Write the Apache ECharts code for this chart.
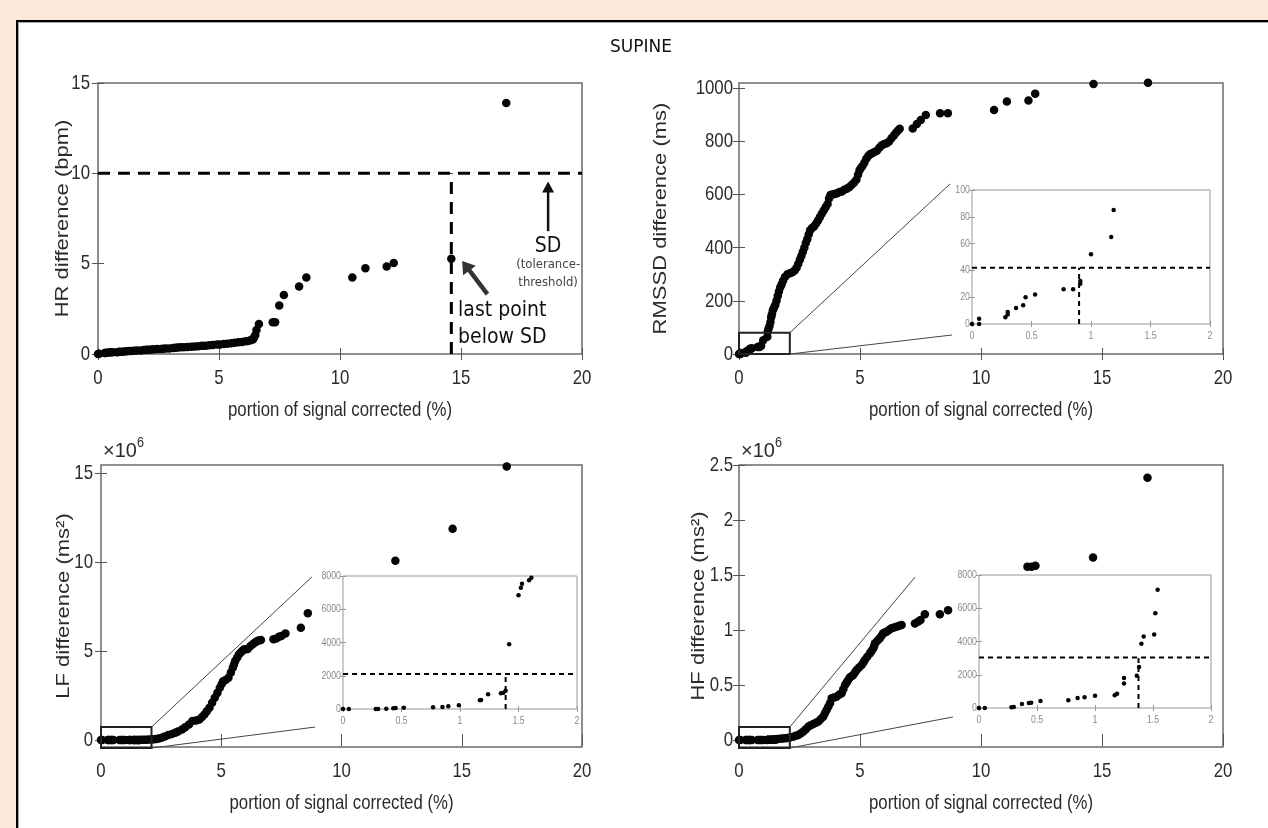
<!DOCTYPE html>
<html><head><meta charset="utf-8">
<script src="https://cdn.jsdelivr.net/npm/echarts@6/dist/echarts.min.js"></script>
<style>
html,body{margin:0;padding:0;background:#FCE9DC;width:1268px;height:828px;overflow:hidden;}
#frame{position:absolute;left:16px;top:20px;width:1252px;height:808px;background:#fff;border-left:2px solid #000;border-top:2px solid #000;box-sizing:border-box;box-shadow:inset 1px 1px 0 #aaa;}
#chart{position:absolute;left:0;top:0;width:1268px;height:828px;}
</style></head><body><div id="frame"></div><div id="chart"></div>
<script>
// ---------------- DATA ----------------
const xTitle = 'portion of signal corrected (%)';
const xTicksMain = [0, 5, 10, 15, 20];

// HR (top-left)
const hrX = [0,0.05,0.28,0.30,0.37,0.45,0.52,0.60,0.77,0.85,0.90,1.00,1.10,1.18,1.30,1.40,1.50,1.60,1.76,1.90,2.00,2.10,2.20,2.30,2.45,2.60,2.70,2.80,2.94,3.10,3.20,3.30,3.42,3.55,3.70,3.86,4.00,4.15,4.30,4.45,4.60,4.75,4.92,5.05,5.20,5.34,5.50,5.65,5.80,5.95,6.10,6.20,6.30,6.40,6.45,6.50,6.55,6.65,7.22,7.32,7.49,7.68,8.31,8.61,10.51,11.05,11.93,12.22,14.60,16.87];
const hrY = [0,0.02,0.05,0.06,0.07,0.08,0.09,0.10,0.10,0.11,0.12,0.13,0.14,0.15,0.16,0.17,0.18,0.19,0.20,0.22,0.23,0.24,0.25,0.26,0.27,0.28,0.29,0.30,0.31,0.33,0.34,0.36,0.37,0.38,0.39,0.40,0.41,0.43,0.45,0.46,0.48,0.50,0.52,0.53,0.55,0.57,0.59,0.62,0.65,0.67,0.70,0.72,0.76,0.80,0.92,1.05,1.33,1.66,1.76,1.76,2.68,3.27,3.73,4.23,4.23,4.75,4.84,5.04,5.27,13.89];
const hrThreshold = 10;
const hrLastX = 14.6;
const hrYTicks = [0, 5, 10, 15];

// RMSSD (top-right)
const rmX = [0,0.06,0.06,0.28,0.30,0.30,0.37,0.43,0.45,0.53,0.77,0.85,0.91,0.91,1.00,1.17,1.19,1.22,1.26,1.30,1.33,1.36,1.40,1.45,1.50,1.55,1.60,1.65,1.70,1.76,1.82,1.90,2.00,2.10,2.20,2.30,2.38,2.45,2.52,2.58,2.64,2.70,2.76,2.82,2.88,2.94,3.02,3.10,3.18,3.26,3.34,3.42,3.50,3.58,3.66,3.72,3.78,3.86,3.95,4.05,4.15,4.25,4.35,4.45,4.55,4.65,4.75,4.85,4.92,4.98,5.04,5.10,5.18,5.26,5.34,5.42,5.50,5.60,5.70,5.80,5.90,6.00,6.10,6.20,6.30,6.40,6.48,6.56,6.64,7.18,7.35,7.51,7.72,8.31,8.63,10.54,11.07,11.96,12.24,14.65,16.90];
const rmY = [0,0,4,5,7,9,12,14,20,22,26,26,30,32,52,65,85,95,105,120,138,150,165,175,185,200,218,235,250,262,276,290,300,304,308,314,325,340,356,370,385,400,418,432,450,466,474,480,490,502,515,528,540,552,565,585,598,600,602,605,610,612,618,622,628,636,645,656,675,692,700,708,720,735,745,752,756,760,765,776,786,790,793,800,812,822,832,840,848,849,866,881,900,906,906,918,950,954,980,1016,1021];
const rmInsetX = [0,0.06,0.06,0.28,0.30,0.30,0.37,0.43,0.45,0.53,0.77,0.85,0.91,0.91,1.00,1.17,1.19];
const rmInsetY = [0,0,4,5,7,9,12,14,20,22,26,26,30,32,52,65,85];
const rmThreshold = 42;
const rmLastX = 0.9;
const rmYTicks = [0, 200, 400, 600, 800, 1000];
const rmInsetYTicks = [0, 20, 40, 60, 80, 100];

// LF (bottom-left)
const lfInsetX = [0,0.05,0.28,0.30,0.37,0.43,0.45,0.52,0.77,0.85,0.90,0.99,1.17,1.18,1.24,1.35,1.37,1.39,1.42,1.50,1.52,1.53,1.59,1.61];
const lfInsetY = [0,0,0,0,20,40,60,80,100,120,160,220,520,540,880,940,980,1100,3900,6840,7300,7540,7740,7900];
const lfX = lfInsetX.concat([1.70,1.80,1.90,2.00,2.10,2.20,2.30,2.40,2.52,2.65,2.80,2.95,3.09,3.20,3.37,3.50,3.66,3.80,3.95,4.09,4.20,4.30,4.40,4.51,4.62,4.73,4.84,4.94,5.02,5.08,5.18,5.30,5.40,5.48,5.53,5.58,5.66,5.73,5.80,5.87,5.94,6.02,6.10,6.22,6.32,6.42,6.50,6.58,6.65,7.17,7.29,7.40,7.50,7.67,8.31,8.60,12.24,14.62,16.87]);
const lfY = lfInsetY.concat([12000,16000,20000,25000,32000,40000,60000,90000,130000,200000,280000,340000,410000,480000,600000,720000,880000,1070000,1100000,1160000,1300000,1440000,1620000,1820000,2100000,2380000,2650000,2940000,3150000,3310000,3380000,3500000,3800000,4060000,4250000,4440000,4620000,4810000,4900000,5000000,5090000,5100000,5120000,5280000,5400000,5500000,5560000,5600000,5620000,5660000,5710000,5800000,5840000,5990000,6310000,7120000,10070000,11870000,15360000]);
const lfThreshold = 2100;
const lfLastX = 1.39;
const lfYTicks = [0, 5e6, 10e6, 15e6];
const insetPowerYTicks = [0, 2000, 4000, 6000, 8000];

// HF (bottom-right)
const hfInsetX = [0,0.05,0.28,0.30,0.37,0.43,0.45,0.53,0.77,0.85,0.91,1.00,1.17,1.19,1.25,1.25,1.36,1.38,1.40,1.42,1.51,1.52,1.54];
const hfInsetY = [0,0,40,60,240,300,320,420,460,600,640,740,760,860,1480,1800,1940,2460,3860,4300,4420,5700,7120];
const hfX = hfInsetX.concat([1.60,1.70,1.80,1.90,2.00,2.10,2.24,2.35,2.45,2.56,2.66,2.76,2.86,2.96,3.07,3.18,3.28,3.38,3.48,3.55,3.62,3.69,3.76,3.83,3.93,4.03,4.14,4.24,4.31,4.38,4.45,4.51,4.58,4.65,4.72,4.79,4.86,4.96,5.07,5.14,5.20,5.30,5.41,5.48,5.55,5.59,5.62,5.72,5.82,5.89,5.96,6.03,6.10,6.20,6.30,6.40,6.51,6.62,6.72,7.27,7.41,7.50,7.68,8.30,8.64,11.92,12.09,12.25,14.63,16.88]);
const hfY = hfInsetY.concat([9000,11000,13000,15000,18000,22000,30000,38000,45000,60000,76000,98000,121000,133000,145000,156000,167000,190000,212000,243000,273000,303000,333000,379000,386000,394000,410000,424000,462000,500000,523000,545000,568000,580000,591000,614000,636000,659000,682000,705000,727000,757000,788000,810000,833000,856000,879000,902000,924000,947000,970000,978000,985000,1000000,1015000,1022000,1030000,1038000,1045000,1058000,1076000,1090000,1142000,1142000,1180000,1576000,1576000,1585000,1658000,2385000]);
const hfThreshold = 3040;
const hfLastX = 1.375;
const hfYTicks = [0, 0.5e6, 1e6, 1.5e6, 2e6, 2.5e6];
const insetXTicks = [0, 0.5, 1, 1.5, 2];

// ---------------- CHART ----------------
const LIB = "'Liberation Sans',Arial,sans-serif";
const DEJA = "'DejaVu Sans',sans-serif";
const COND = "'DejaVu Sans Condensed','DejaVu Sans',sans-serif";
const SQ = 0.8; // horizontal squeeze of the reference's lettering
const pairs = (xs, ys) => { const n = Math.min(xs.length, ys.length), o = []; for (let i = 0; i < n; i++) o.push([xs[i], ys[i]]); return o; };

const chart = echarts.init(document.getElementById('chart'), null, {renderer: 'canvas', width: 1268, height: 828});

const grids = [
  {left: 98,  top: 83,  width: 484, height: 271},
  {left: 739, top: 83,  width: 484, height: 271},
  {left: 101, top: 465, width: 481, height: 282},
  {left: 739, top: 465, width: 484, height: 282},
  {left: 972, top: 190, width: 238, height: 134, inset: true},
  {left: 343, top: 576, width: 234, height: 133, inset: true},
  {left: 979, top: 575, width: 232, height: 133, inset: true}
];

const gridOpts = grids.map(g => ({
  left: g.left, top: g.top, width: g.width, height: g.height, show: true,
  borderColor: g.inset ? '#999' : '#6a6a6a', borderWidth: g.inset ? 1 : 1.5,
  backgroundColor: g.inset ? '#fff' : 'transparent', z: g.inset ? 5 : 0
}));

const xAxes = [], yAxes = [];
const panels = [];
function addAxes(gi, cfg) {
  const inset = grids[gi].inset;
  const z = inset ? 6 : 1;
  const tick = () => ({inside: true, length: inset ? 3 : 6, lineStyle: {color: inset ? '#999' : '#555', width: 1}});
  const base = {type: 'value', gridIndex: gi, z, axisLine: {show: false}, splitLine: {show: false}, axisLabel: {show: false}};
  const xa = Object.assign({}, base, {min: cfg.xmin, max: cfg.xmax, interval: cfg.xint});
  xAxes.push(Object.assign({}, xa, {position: 'bottom', axisTick: tick()}), Object.assign({}, xa, {position: 'top', axisTick: tick()}));
  const ya = Object.assign({}, base, {min: cfg.ymin, max: cfg.ymax});
  const yl = Object.assign({}, ya, {position: 'left', axisTick: tick()});
  const yr = Object.assign({}, ya, {position: 'right', axisTick: tick()});
  if (cfg.yint) { yl.interval = cfg.yint; yr.interval = cfg.yint; }
  else { yl.axisTick.customValues = cfg.yTicks; yr.axisTick.customValues = cfg.yTicks; }
  yAxes.push(yl, yr);
  panels[gi] = cfg;
}
addAxes(0, {xmin: 0, xmax: 20, xint: 5, ymin: 0, ymax: 15, yint: 5, xTicks: xTicksMain, yTicks: hrYTicks, yName: 'HR difference (bpm)', yNameX: 63, gap: 8});
addAxes(1, {xmin: 0, xmax: 20, xint: 5, ymin: 0, ymax: 1020, xTicks: xTicksMain, yTicks: rmYTicks, yName: 'RMSSD difference (ms)', yNameX: 661, gap: 6});
addAxes(2, {xmin: 0, xmax: 20, xint: 5, ymin: -0.39e6, ymax: 15.45e6, xTicks: xTicksMain, yTicks: lfYTicks, mega: true, yName: 'LF difference (ms\u00B2)', yNameX: 64, gap: 8});
addAxes(3, {xmin: 0, xmax: 20, xint: 5, ymin: -0.064e6, ymax: 2.5e6, xTicks: xTicksMain, yTicks: hfYTicks, mega: true, yName: 'HF difference (ms\u00B2)', yNameX: 699, gap: 6});
addAxes(4, {xmin: 0, xmax: 2, xint: 0.5, ymin: 0, ymax: 100, yint: 20, xTicks: insetXTicks, yTicks: rmInsetYTicks, gap: 2});
addAxes(5, {xmin: 0, xmax: 2, xint: 0.5, ymin: 0, ymax: 8000, yint: 2000, xTicks: insetXTicks, yTicks: insetPowerYTicks, gap: 2});
addAxes(6, {xmin: 0, xmax: 2, xint: 0.5, ymin: 0, ymax: 8000, yint: 2000, xTicks: insetXTicks, yTicks: insetPowerYTicks, gap: 2});

const series = [];
const panelSeries = [];
function dots(gi, xs, ys, size) {
  series.push({type: 'scatter', xAxisIndex: 2 * gi, yAxisIndex: 2 * gi, data: pairs(xs, ys), symbol: 'circle',
    symbolSize: size, itemStyle: {color: '#050505', opacity: 1}, z: grids[gi].inset ? 8 : 3, silent: true, clip: false});
  panelSeries[gi] = series.length - 1;
  return series.length - 1;
}
function dashes(gi, pts, width, dash) {
  series.push({type: 'line', xAxisIndex: 2 * gi, yAxisIndex: 2 * gi, data: pts, symbol: 'none', silent: true,
    lineStyle: {color: '#000', width: width, type: dash}, z: grids[gi].inset ? 7 : 2});
}
const sHR = dots(0, hrX, hrY, 8.5);
dashes(0, [[0, hrThreshold], [20, hrThreshold]], 3, [12, 8]);
dashes(0, [[hrLastX, 0], [hrLastX, hrThreshold]], 3, [12, 8]);
const sRM = dots(1, rmX, rmY, 8.5);
const sLF = dots(2, lfX, lfY, 8.5);
const sHF = dots(3, hfX, hfY, 8.5);
dots(4, rmInsetX, rmInsetY, 4.5);
dashes(4, [[0, rmThreshold], [2, rmThreshold]], 2, [5, 4]);
dashes(4, [[rmLastX, 0], [rmLastX, rmThreshold]], 2, [5, 4]);
dots(5, lfInsetX, lfInsetY, 4.5);
dashes(5, [[0, lfThreshold], [2, lfThreshold]], 2, [5, 4]);
dashes(5, [[lfLastX, 0], [lfLastX, lfThreshold]], 2, [5, 4]);
dots(6, hfInsetX, hfInsetY, 4.5);
dashes(6, [[0, hfThreshold], [2, hfThreshold]], 2, [5, 4]);
dashes(6, [[hfLastX, 0], [hfLastX, hfThreshold]], 2, [5, 4]);

chart.setOption({animation: false, grid: gridOpts, xAxis: xAxes, yAxis: yAxes, series: series});

// ---------------- TEXT & ANNOTATIONS ----------------
const P = (s, pt) => chart.convertToPixel({seriesIndex: s}, pt);
const g = [];
function txt(x, y, text, font, color, align, sx) {
  g.push({type: 'text', x, y, z: 20, scaleX: sx || SQ, silent: true,
    style: {text, font, fill: color, align: align || 'center', verticalAlign: 'middle'}});
}
const fmtVal = (v, mega) => mega ? String(+(v / 1e6).toFixed(2)) : String(v);
panels.forEach((cfg, gi) => {
  const inset = grids[gi].inset, s = panelSeries[gi];
  const font = inset ? '11px ' + LIB : '21px ' + LIB;
  const col = inset ? '#8a8a8a' : '#2b2b2b';
  cfg.xTicks.forEach(v => { const p = P(s, [v, cfg.ymin]); txt(p[0], p[1] + (inset ? 12 : 24), fmtVal(v), font, col, 'center'); });
  cfg.yTicks.forEach(v => { const p = P(s, [cfg.xmin, v]); txt(p[0] - cfg.gap, p[1], fmtVal(v, cfg.mega), font, col, 'right'); });
  if (!inset) {
    const b = P(s, [(cfg.xmin + cfg.xmax) / 2, cfg.ymin]);
    txt(b[0], b[1] + 56, xTitle, '21px ' + LIB, '#2b2b2b', 'center');
    const m = P(s, [cfg.xmin, (cfg.ymin + cfg.ymax) / 2]);
    g.push({type: 'text', x: cfg.yNameX, y: m[1], z: 20, rotation: Math.PI / 2, scaleY: SQ + 0.05, silent: true,
      style: {text: cfg.yName, font: '22px ' + LIB, fill: '#2b2b2b', align: 'center', verticalAlign: 'middle'}});
    if (cfg.mega) {
      txt(grids[gi].left + 2, grids[gi].top - 14, '\u00D710', '21px ' + LIB, '#2b2b2b', 'left', 0.95);
      txt(grids[gi].left + 36, grids[gi].top - 22, '6', '14px ' + LIB, '#2b2b2b', 'left', 0.9);
    }
  }
});
g.push({type: 'text', x: 641, y: 48, z: 20, style: {text: 'SUPINE', font: '17px ' + DEJA, fill: '#111', align: 'center', verticalAlign: 'middle'}});

// zoom boxes and connectors (data coords of main panels)
const zoomBoxes = [
  {s: sRM, x0: 0, x1: 2.1, y0: 0, y1: 80, c1: [8.72, 640], c2: [8.80, 71.5]},
  {s: sLF, x0: 0, x1: 2.1, y0: -0.45e6, y1: 0.73e6, c1: [8.77, 9.16e6], c2: [8.90, 0.73e6]},
  {s: sHF, x0: 0, x1: 2.1, y0: -0.073e6, y1: 0.118e6, c1: [7.27, 1.48e6], c2: [8.84, 0.209e6]}
];
zoomBoxes.forEach(b => {
  const a = P(b.s, [b.x0, b.y1]), c = P(b.s, [b.x1, b.y0]);
  g.push({type: 'rect', z: 9, shape: {x: a[0], y: a[1], width: c[0] - a[0], height: c[1] - a[1]}, style: {fill: 'none', stroke: '#222', lineWidth: 2}});
  const t1 = P(b.s, b.c1), t2 = P(b.s, b.c2);
  g.push({type: 'line', z: 9, shape: {x1: c[0], y1: a[1], x2: t1[0], y2: t1[1]}, style: {stroke: '#444', lineWidth: 1}});
  g.push({type: 'line', z: 9, shape: {x1: c[0], y1: c[1], x2: t2[0], y2: t2[1]}, style: {stroke: '#444', lineWidth: 1}});
});
function arrow(p0, p1, w, hl, hw, color) {
  const dx = p1[0] - p0[0], dy = p1[1] - p0[1], L = Math.hypot(dx, dy), ux = dx / L, uy = dy / L;
  const bx = p1[0] - ux * hl, by = p1[1] - uy * hl;
  g.push({type: 'line', z: 12, shape: {x1: p0[0], y1: p0[1], x2: bx + ux * 2, y2: by + uy * 2}, style: {stroke: color, lineWidth: w}});
  g.push({type: 'polygon', z: 12, shape: {points: [[p1[0], p1[1]], [bx - uy * hw, by + ux * hw], [bx + uy * hw, by - ux * hw]]}, style: {fill: color}});
}
const noteLast = ['last point', 'below SD'];
const noteLastAt = [[14.88, 2.38], [14.88, 0.89]];
noteLast.forEach((t, i) => { const p = P(sHR, noteLastAt[i]); g.push({type: 'text', z: 12, x: p[0], y: p[1], style: {text: t, font: '21px ' + COND, fill: '#111', align: 'left', verticalAlign: 'middle'}}); });
const sdAt = P(sHR, [18.6, 5.92]);
g.push({type: 'text', z: 12, x: sdAt[0], y: sdAt[1], style: {text: 'SD', font: '21px ' + COND, fill: '#111', align: 'center', verticalAlign: 'middle'}});
const tolLines = ['(tolerance-', 'threshold)'];
const tolAt = [[18.6, 4.93], [18.6, 3.93]];
tolLines.forEach((t, i) => { const p = P(sHR, tolAt[i]); g.push({type: 'text', z: 12, x: p[0], y: p[1], style: {text: t, font: '13px ' + COND, fill: '#444', align: 'center', verticalAlign: 'middle'}}); });
arrow(P(sHR, [18.6, 6.8]), P(sHR, [18.6, 9.55]), 2.5, 11, 6, '#111');
arrow(P(sHR, [16.09, 3.32]), P(sHR, [15.05, 5.15]), 4.5, 12, 8, '#333');

chart.setOption({graphic: g});
</script></body></html>
